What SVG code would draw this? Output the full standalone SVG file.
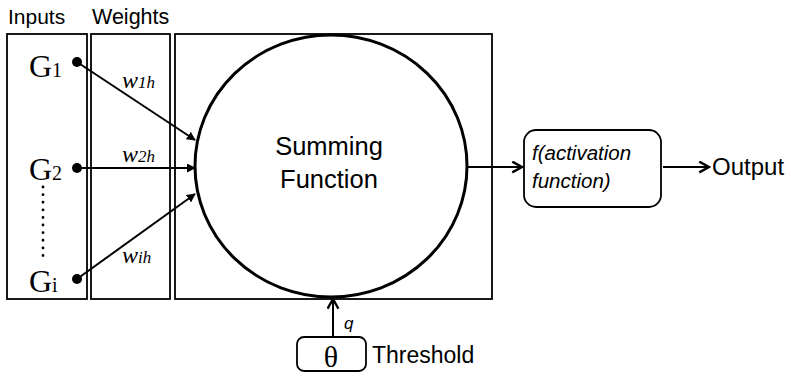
<svg xmlns="http://www.w3.org/2000/svg" width="791" height="376" viewBox="0 0 791 376">
<style>
.box{fill:none;stroke:#000;stroke-width:1.8}
.line{stroke:#000;stroke-width:2;fill:none}
.sans{font-family:"Liberation Sans",Arial,sans-serif;fill:#000}
.serif{font-family:"Liberation Serif","Times New Roman",serif;fill:#000}
</style>
<defs>
<marker id="ah" viewBox="0 0 10 10" refX="9" refY="5" markerWidth="9" markerHeight="9" orient="auto" markerUnits="userSpaceOnUse">
<path d="M0,0 L10,5 L0,10 z" fill="#000"/>
</marker>
<marker id="oa" viewBox="0 0 12 12" refX="10" refY="6" markerWidth="13" markerHeight="13" orient="auto" markerUnits="userSpaceOnUse">
<path d="M1,1 L10,6 L1,11" fill="none" stroke="#000" stroke-width="2.2"/>
</marker>
</defs>
<text class="sans" x="8" y="24" font-size="21">Inputs</text>
<text class="sans" x="92" y="24" font-size="21.5">Weights</text>
<g id="inputs">
<rect x="7" y="34" width="80" height="265" class="box"/>
<text class="serif" x="29" y="77" font-size="32">G<tspan font-size="20">1</tspan></text>
<text class="serif" x="29" y="180" font-size="32">G<tspan font-size="20">2</tspan></text>
<text class="serif" x="29" y="292" font-size="32">G<tspan font-size="20">i</tspan></text>
<line x1="43" y1="187" x2="43" y2="262" stroke="#000" stroke-width="2.8" stroke-dasharray="0.1,7.5" stroke-linecap="round"/>
<circle cx="77" cy="62" r="5"/>
<circle cx="77" cy="168" r="5"/>
<circle cx="77" cy="279" r="5"/>
</g>
<g id="weights">
<rect x="91" y="34" width="79" height="265" class="box"/>
<text class="serif" x="122" y="88" font-size="24" font-style="italic">w<tspan font-size="17">1h</tspan></text>
<text class="serif" x="122" y="162" font-size="24" font-style="italic">w<tspan font-size="17">2h</tspan></text>
<text class="serif" x="122" y="263" font-size="24" font-style="italic">w<tspan font-size="17">ih</tspan></text>
</g>
<g id="summing">
<rect x="175" y="34" width="317" height="265" class="box"/>
<ellipse cx="331" cy="166" rx="136" ry="131" fill="none" stroke="#000" stroke-width="3"/>
<text class="sans" x="329" y="155" font-size="25.5" text-anchor="middle">Summing</text>
<text class="sans" x="329" y="188" font-size="25.5" text-anchor="middle">Function</text>
</g>
<g id="threshold">
<rect x="297" y="337" width="69" height="34" rx="7" class="box"/>
<text class="serif" x="331" y="367" font-size="30" text-anchor="middle">θ</text>
<text class="sans" x="372" y="363" font-size="23">Threshold</text>
</g>
<g id="activation">
<rect x="524" y="130" width="137" height="77" rx="12" class="box"/>
<text class="sans" x="532" y="160" font-size="20.5" font-style="italic">f(activation</text>
<text class="sans" x="532" y="188" font-size="20.5" font-style="italic">function)</text>
</g>
<g id="output">
<text class="sans" x="712" y="175" font-size="24">Output</text>
</g>
<g id="connectors">
<line x1="77" y1="62" x2="195" y2="140" class="line" marker-end="url(#ah)"/>
<line x1="77" y1="168" x2="195" y2="168" class="line" marker-end="url(#ah)" stroke-width="1.5"/>
<line x1="77" y1="279" x2="195" y2="194" class="line" marker-end="url(#ah)"/>
<line x1="467" y1="167" x2="522" y2="167" class="line" marker-end="url(#oa)"/>
<line x1="663" y1="167" x2="709" y2="167" class="line" marker-end="url(#oa)"/>
<line x1="333" y1="337" x2="333" y2="299" class="line" marker-end="url(#oa)"/>
<text class="sans" x="344" y="329" font-size="17" font-style="italic">q</text>
</g>
</svg>
